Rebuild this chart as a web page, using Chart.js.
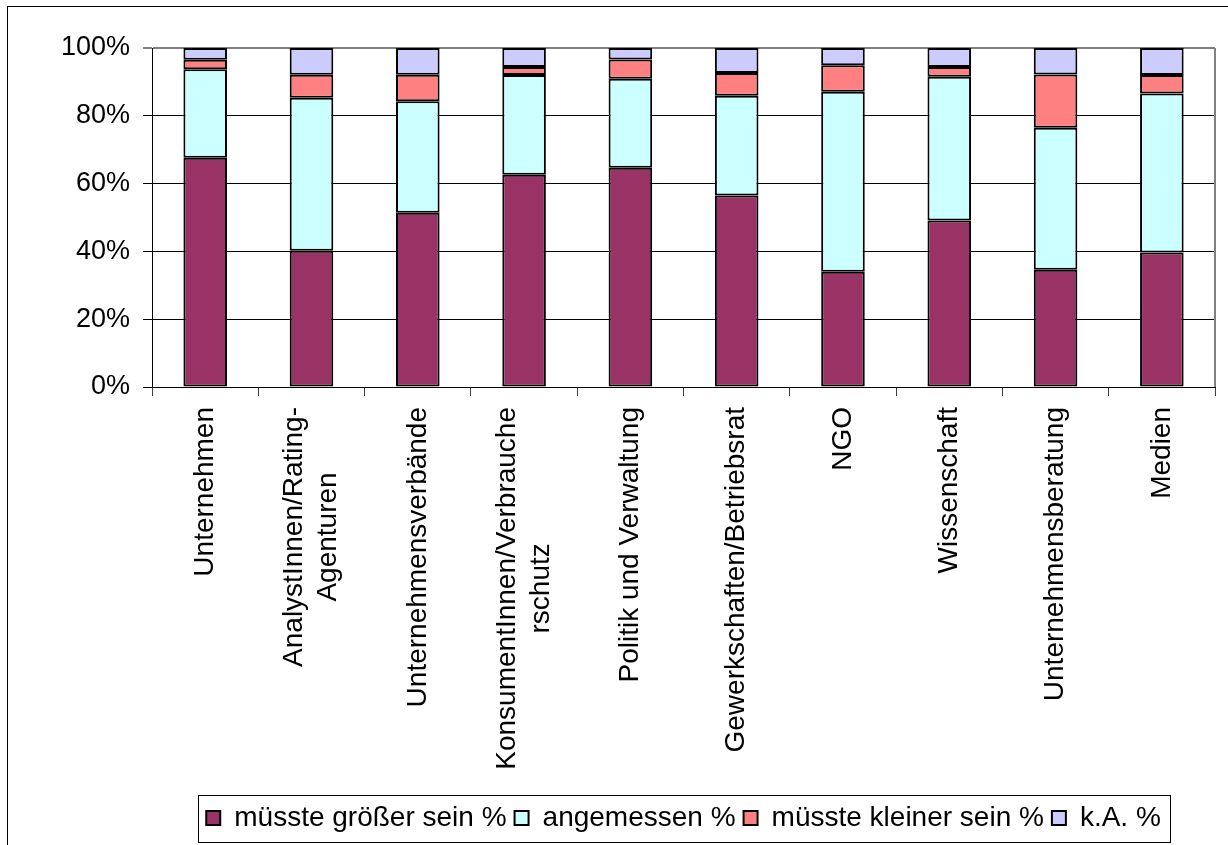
<!DOCTYPE html>
<html>
<head>
<meta charset="utf-8">
<script src="https://cdn.jsdelivr.net/npm/chart.js@4/dist/chart.umd.min.js"></script>
<style>
  html, body { margin: 0; padding: 0; background: #fff; }
  #wrap { position: relative; width: 1228px; height: 845px; }
</style>
</head>
<body>
<div id="wrap"><canvas id="chart"></canvas></div>
<script>
// Stakeholder groups (x axis), two of them wrap onto a second line
const categories = [
  "Unternehmen",
  ["AnalystInnen/Rating-", "Agenturen"],
  "Unternehmensverbände",
  ["KonsumentInnen/Verbrauche", "rschutz"],
  "Politik und Verwaltung",
  "Gewerkschaften/Betriebsrat",
  "NGO",
  "Wissenschaft",
  "Unternehmensberatung",
  "Medien"
];

// answer shares in percent, one value per group
const groesser = [67.6, 40.2, 51.4, 62.6, 64.7, 56.5, 34.0, 49.1, 34.6, 39.7];
const angemessen = [26.1, 45.1, 32.9, 29.4, 26.2, 29.4, 53.1, 42.4, 41.9, 46.9];
const kleiner = [2.8, 6.8, 7.8, 2.4, 5.7, 6.7, 7.8, 2.9, 15.7, 5.4];
const keineAngabe = [3.5, 7.9, 7.9, 5.6, 3.4, 7.4, 5.1, 5.6, 7.8, 8.0];

const seriesNames = ["müsste größer sein %", "angemessen %", "müsste kleiner sein %", "k.A. %"];
const yMin = 0;
const yMax = 100;
const yStep = 20;

const cMaroon = "#993366";
const cCyan = "#CCFFFF";
const cSalmon = "#FF8080";
const cLavender = "#CCCCFF";

const fontFamily = '"Liberation Sans", Arial, Helvetica, sans-serif';
Chart.defaults.font.family = fontFamily;
Chart.defaults.color = "#000";

// white page with the thin frame around the whole chart
const frame = {
  id: "frame",
  beforeDraw(chart) {
    const ctx = chart.ctx;
    ctx.save();
    ctx.fillStyle = "#fff";
    ctx.fillRect(0, 0, chart.width, chart.height);
    ctx.strokeStyle = "#000";
    ctx.lineWidth = 1;
    ctx.strokeRect(7.5, 6.5, chart.width + 50, chart.height + 50);
    ctx.restore();
  },
  // grey right edge of the plot area
  beforeDatasetsDraw(chart) {
    const {ctx, chartArea} = chart;
    ctx.save();
    ctx.strokeStyle = "#808080";
    ctx.lineWidth = 2;
    ctx.beginPath();
    ctx.moveTo(chartArea.right, chartArea.top);
    ctx.lineTo(chartArea.right, chartArea.bottom);
    ctx.stroke();
    ctx.restore();
  }
};

// vertical category labels, wrapped lines centred on each other
const categoryLabels = {
  id: "categoryLabels",
  afterDraw(chart) {
    const {ctx, scales: {x}} = chart;
    const top = x.top + 20;
    const lineGap = 34;
    ctx.save();
    ctx.font = "28px " + fontFamily;
    ctx.fillStyle = "#000";
    ctx.textAlign = "center";
    ctx.textBaseline = "middle";
    categories.forEach((label, i) => {
      const lines = Array.isArray(label) ? label : [label];
      const widest = Math.max(...lines.map(l => ctx.measureText(l).width));
      const cx = x.getPixelForTick(i);
      lines.forEach((line, k) => {
        ctx.save();
        ctx.translate(cx + (k - (lines.length - 1) / 2) * lineGap, top + widest / 2);
        ctx.rotate(-Math.PI / 2);
        ctx.fillText(line, 0, 0);
        ctx.restore();
      });
    });
    ctx.restore();
  }
};

// box around the legend entries
const legendBox = {
  id: "legendBox",
  afterDraw(chart) {
    const boxes = chart.legend && chart.legend.legendHitBoxes;
    if (!boxes || !boxes.length) return;
    const first = boxes[0];
    const last = boxes[boxes.length - 1];
    const mid = first.top + first.height / 2;
    const ctx = chart.ctx;
    ctx.save();
    ctx.strokeStyle = "#000";
    ctx.lineWidth = 1;
    const left = Math.round(first.left - 8) + 0.5;
    const right = Math.round(last.left + last.width + 9) + 0.5;
    ctx.strokeRect(left, Math.round(mid - 23.5) + 0.5, right - left, 47);
    ctx.restore();
  }
};

function series(label, data, color) {
  return {
    label: label,
    data: data,
    backgroundColor: color,
    borderColor: "#000",
    borderWidth: 2,
    borderSkipped: false,
    barPercentage: 0.41,
    categoryPercentage: 1
  };
}

const ctx = document.getElementById("chart");
new Chart(ctx, {
  type: "bar",
  data: {
    labels: categories,
    datasets: [
      series(seriesNames[0], groesser, cMaroon),
      series(seriesNames[1], angemessen, cCyan),
      series(seriesNames[2], kleiner, cSalmon),
      series(seriesNames[3], keineAngabe, cLavender)
    ]
  },
  options: {
    responsive: true,
    maintainAspectRatio: false,
    animation: false,
    events: [],
    layout: {
      padding: { top: 48, left: 48, right: 13, bottom: 3 }
    },
    scales: {
      x: {
        stacked: true,
        grid: {
          offset: true,
          drawOnChartArea: false,
          drawTicks: true,
          tickLength: 9,
          color: "#404040"
        },
        border: { color: "#000", width: 1 },
        ticks: {
          color: "rgba(0,0,0,0)",
          font: { size: 28 },
          autoSkip: false,
          minRotation: 90,
          maxRotation: 90
        },
        afterFit(scale) {
          scale.height = 409;
        }
      },
      y: {
        stacked: true,
        min: yMin,
        max: yMax,
        grid: {
          color: (c) => (c.tick && c.tick.value === yMax ? "#808080" : "#000"),
          lineWidth: (c) => (c.tick && c.tick.value === yMax ? 2 : 1),
          tickLength: 9
        },
        border: { color: "#000", width: 1 },
        ticks: {
          stepSize: yStep,
          padding: 13,
          font: { size: 27 },
          color: "#000",
          callback: (v) => v + "%"
        }
      }
    },
    plugins: {
      legend: {
        position: "bottom",
        fullSize: false,
        labels: {
          boxWidth: 14,
          boxHeight: 14,
          padding: 8,
          color: "#000",
          font: { size: 28 }
        }
      },
      tooltip: { enabled: false }
    }
  },
  plugins: [frame, categoryLabels, legendBox]
});
</script>
</body>
</html>
